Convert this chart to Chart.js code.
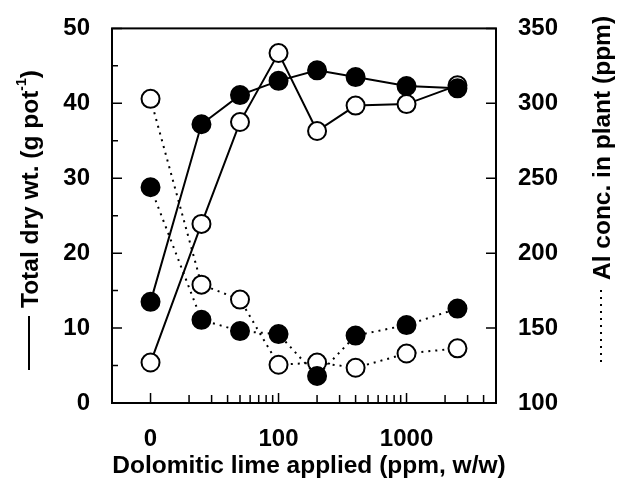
<!DOCTYPE html>
<html>
<head>
<meta charset="utf-8">
<script src="https://cdn.jsdelivr.net/npm/chart.js@4.4.1/dist/chart.umd.min.js"></script>
<style>
  html, body { margin: 0; padding: 0; background: #fff; }
  #wrap { width: 622px; height: 479px; }
</style>
</head>
<body>
<div id="wrap"><canvas id="chart" width="622" height="479"></canvas></div>
<script>
// dolomitic lime doses (ppm); the 0 dose sits at the "0" position of the log axis
const doses = [0, 25, 50, 100, 200, 400, 1000, 2500];
const zeroAt = 10;

// total dry wt (g pot-1), solid lines, left axis
const dryWtFilled = [13.5, 37.2, 41.1, 43.0, 44.4, 43.5, 42.3, 42.0];
const dryWtOpen = [5.4, 23.9, 37.5, 46.7, 36.3, 39.7, 39.9, 42.4];

// Al conc. in plant (ppm), dotted lines, right axis
const alFilled = [244, 155.5, 148, 146, 118, 145, 152, 163];
const alOpen = [303, 179, 169, 125.5, 127, 123.5, 133, 136.5];

// axis ticks
const xMajor = [10, 100, 1000];
const xLabels = { 10: "0", 100: "100", 1000: "1000" };
const xMinor = [20, 30, 40, 50, 60, 70, 80, 90, 200, 300, 400, 500, 600, 700, 800, 900, 2000, 3000, 4000];
const leftTicks = [0, 5, 10, 15, 20, 25, 30, 35, 40, 45, 50];
const rightTicks = [100, 150, 200, 250, 300, 350];

const toPoints = (ys) => ys.map((y, i) => ({ x: doses[i] === 0 ? zeroAt : doses[i], y }));

const FONT = "'Liberation Sans', Arial, sans-serif";
const TITLE = "bold 24.5px " + FONT;
const SUP = "bold 14px " + FONT;

const framePlugin = {
  id: "frame",
  afterDatasetsDraw(chart) {
    const { ctx, chartArea: a, scales } = chart;
    ctx.save();
    ctx.strokeStyle = "#000";
    ctx.lineWidth = 2;
    ctx.strokeRect(a.left, a.top, a.right - a.left, a.bottom - a.top);
    ctx.lineWidth = 1.5;
    ctx.beginPath();
    xMajor.concat(xMinor).forEach((v) => {
      const px = scales.x.getPixelForValue(v);
      const len = xMajor.includes(v) ? 10 : 8;
      ctx.moveTo(px, a.bottom);
      ctx.lineTo(px, a.bottom - len);
    });
    leftTicks.forEach((v) => {
      const py = scales.y.getPixelForValue(v);
      const len = v % 10 === 0 ? 10 : 6;
      ctx.moveTo(a.left, py);
      ctx.lineTo(a.left + len, py);
    });
    rightTicks.forEach((v) => {
      const py = scales.y2.getPixelForValue(v);
      ctx.moveTo(a.right, py);
      ctx.lineTo(a.right - 10, py);
    });
    ctx.stroke();
    ctx.restore();
  },
  afterDraw(chart) {
    const { ctx } = chart;
    ctx.save();
    ctx.fillStyle = "#000";
    ctx.strokeStyle = "#000";

    // x title
    ctx.font = TITLE;
    ctx.textAlign = "center";
    ctx.textBaseline = "middle";
    ctx.fillText("Dolomitic lime applied (ppm, w/w)", 309, 466);

    // left title, bottom to top, with solid line key
    ctx.save();
    ctx.translate(31, 0);
    ctx.rotate(-Math.PI / 2);
    ctx.textAlign = "left";
    ctx.font = TITLE;
    const main = "Total dry wt. (g pot";
    const wMain = ctx.measureText(main).width;
    ctx.font = SUP;
    const wSup = ctx.measureText("-1").width;
    const start = -308;
    ctx.font = TITLE;
    ctx.fillText(main, start, 0);
    ctx.font = SUP;
    ctx.fillText("-1", start + wMain, -9);
    ctx.font = TITLE;
    ctx.fillText(")", start + wMain + wSup, 0);
    ctx.restore();
    ctx.lineWidth = 2;
    ctx.beginPath();
    ctx.moveTo(29, 316);
    ctx.lineTo(29, 370);
    ctx.stroke();

    // right title, bottom to top, with dotted line key
    ctx.save();
    ctx.translate(603, 0);
    ctx.rotate(-Math.PI / 2);
    ctx.textAlign = "left";
    ctx.font = TITLE;
    ctx.fillText("Al conc. in plant (ppm)", -280, 0);
    ctx.restore();
    ctx.lineWidth = 2;
    ctx.setLineDash([2, 5]);
    ctx.beginPath();
    ctx.moveTo(601, 290);
    ctx.lineTo(601, 366);
    ctx.stroke();
    ctx.restore();
  },
};

const solid = (data, fill) => ({
  data: toPoints(data),
  yAxisID: "y",
  showLine: true,
  borderColor: "#000",
  borderWidth: 2,
  pointRadius: 9,
  pointBorderWidth: 2,
  pointBackgroundColor: fill,
  pointBorderColor: "#000",
});

const dotted = (data, fill) => ({
  data: toPoints(data),
  yAxisID: "y2",
  showLine: true,
  borderColor: "#000",
  borderWidth: 2,
  borderDash: [2, 5],
  pointRadius: 9,
  pointBorderWidth: 2,
  pointBackgroundColor: fill,
  pointBorderColor: "#000",
});

const tickFont = { family: FONT, size: 24, weight: "bold" };

new Chart(document.getElementById("chart"), {
  type: "scatter",
  data: {
    datasets: [
      solid(dryWtFilled, "#000"),
      dotted(alFilled, "#000"),
      solid(dryWtOpen, "#fff"),
      dotted(alOpen, "#fff"),
    ],
  },
  options: {
    responsive: false,
    animation: false,
    layout: { padding: { top: 20, left: 0, right: 0, bottom: 0 } },
    plugins: { legend: { display: false }, tooltip: { enabled: false } },
    scales: {
      x: {
        type: "logarithmic",
        min: 5,
        max: 5000,
        afterBuildTicks: (scale) => {
          scale.ticks = xMajor.map((v) => ({ value: v }));
        },
        afterFit: (scale) => { scale.height = 76; },
        grid: { display: false },
        border: { display: false },
        ticks: {
          autoSkip: false,
          maxRotation: 0,
          padding: 14,
          color: "#000",
          font: tickFont,
          callback: (v) => xLabels[v] || "",
        },
      },
      y: {
        position: "left",
        min: 0,
        max: 50,
        afterFit: (scale) => { scale.width = 112; },
        grid: { display: false },
        border: { display: false },
        ticks: { stepSize: 10, padding: 14, color: "#000", font: tickFont },
      },
      y2: {
        position: "right",
        min: 100,
        max: 350,
        afterFit: (scale) => { scale.width = 126; },
        grid: { display: false },
        border: { display: false },
        ticks: { stepSize: 50, padding: 14, color: "#000", font: tickFont },
      },
    },
  },
  plugins: [framePlugin],
});
</script>
</body>
</html>
